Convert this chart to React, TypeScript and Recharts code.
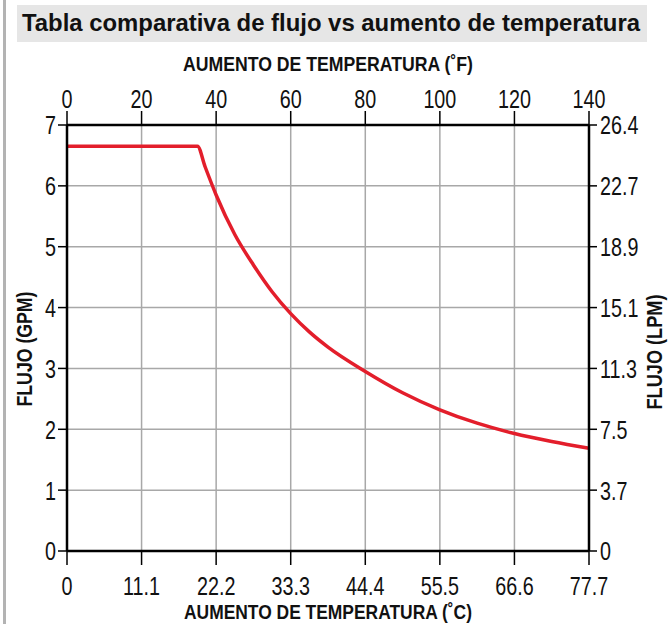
import React from 'react';
import { LineChart, Line, XAxis, YAxis, CartesianGrid } from 'recharts';

// flow curve (°F rise -> GPM)
const tempRiseF = [0, 35, 37, 40, 45, 50, 55, 60, 65, 70, 80, 90, 100, 110, 120, 130, 140];
const flowGpm = [6.65, 6.65, 6.32, 5.85, 5.2, 4.7, 4.26, 3.9, 3.6, 3.35, 2.95, 2.6, 2.32, 2.1, 1.93, 1.8, 1.69];

const fahrenheitTicks = [0, 20, 40, 60, 80, 100, 120, 140];
const celsiusLabels = ['0', '11.1', '22.2', '33.3', '44.4', '55.5', '66.6', '77.7'];
const gpmTicks = [0, 1, 2, 3, 4, 5, 6, 7];
const lpmLabels = ['0', '3.7', '7.5', '11.3', '15.1', '18.9', '22.7', '26.4'];

const data = tempRiseF.map((t, i) => ({ temp: t, flow: flowGpm[i] }));

const FONT = '"Liberation Sans", Arial, sans-serif';
const FS = 26; // tick font size
const SX = 0.76; // horizontal squeeze, the original uses a condensed face
const axisStroke = { stroke: '#000', strokeWidth: 2.5 };
const tickStroke = { stroke: '#000', strokeWidth: 1.5 };

// tick labels drawn narrow
const makeTick = (side: 'top' | 'bottom' | 'left' | 'right', labels?: string[]) => (props: any) => {
  const { x, y, payload, index } = props;
  const value = labels ? labels[index] : String(payload.value);
  let anchor = 'middle';
  let dy = 0;
  if (side === 'bottom') dy = 0.72 * FS;
  if (side === 'left') { anchor = 'end'; dy = 0.36 * FS; }
  if (side === 'right') { anchor = 'start'; dy = 0.36 * FS; }
  return (
    <text transform={`translate(${x},${y + dy}) scale(${SX},1)`} textAnchor={anchor} fontFamily={FONT} fontSize={FS} fill="#111">
      {value}
    </text>
  );
};

const TopTitle = ({ viewBox }: any) => (
  <text x={viewBox.x + viewBox.width / 2 - 290 / 2} y={71} textLength={290} lengthAdjust="spacingAndGlyphs" fontFamily={FONT} fontWeight="bold" fontSize={21} fill="#111">
    AUMENTO DE TEMPERATURA (˚F)
  </text>
);

const BottomTitle = ({ viewBox }: any) => (
  <text x={viewBox.x + viewBox.width / 2 - 288 / 2} y={619} textLength={288} lengthAdjust="spacingAndGlyphs" fontFamily={FONT} fontWeight="bold" fontSize={20} fill="#111">
    AUMENTO DE TEMPERATURA (˚C)
  </text>
);

const SideTitle = (text: string, cx: number, shift: number) => ({ viewBox }: any) => {
  const cy = viewBox.y + viewBox.height / 2 + shift;
  return (
    <text
      x={cx - 115 / 2}
      y={cy}
      transform={`rotate(-90 ${cx} ${cy})`}
      textLength={115}
      lengthAdjust="spacingAndGlyphs"
      dominantBaseline="central"
      fontFamily={FONT}
      fontWeight="bold"
      fontSize={22}
      fill="#111"
    >
      {text}
    </text>
  );
};

export default function App() {
  return (
    <div style={{ position: 'absolute', left: 0, top: 0, width: 672, height: 624, background: '#fff', overflow: 'hidden' }}>
      {/* gray rule on the left edge */}
      <div style={{ position: 'absolute', left: 3, top: 0, width: 3, height: 624, background: '#b3b3b3' }} />
      {/* title bar */}
      <svg style={{ position: 'absolute', left: 17, top: 5 }} width={630} height={37}>
        <rect x={0} y={0} width={630} height={37} fill="#e6e6e6" />
        <text x={5} y={26} textLength={618} lengthAdjust="spacingAndGlyphs" fontFamily={FONT} fontWeight="bold" fontSize={23.5} fill="#111">
          Tabla comparativa de flujo vs aumento de temperatura
        </text>
      </svg>

      <LineChart width={672} height={624} data={data} margin={{ top: 0, right: 0, bottom: 0, left: 0 }}>
        <CartesianGrid xAxisId="f" yAxisId="gpm" stroke="#a8a8a8" strokeWidth={1.5} />
        <XAxis
          xAxisId="f"
          dataKey="temp"
          type="number"
          orientation="top"
          domain={[0, 140]}
          ticks={fahrenheitTicks}
          height={125}
          tick={makeTick('top')}
          tickSize={14}
          tickMargin={3}
          axisLine={axisStroke}
          tickLine={tickStroke}
          interval={0}
          label={{ content: TopTitle }}
        />
        <XAxis
          xAxisId="c"
          dataKey="temp"
          type="number"
          orientation="bottom"
          domain={[0, 140]}
          ticks={fahrenheitTicks}
          height={73}
          tick={makeTick('bottom', celsiusLabels)}
          tickSize={14}
          tickMargin={11}
          axisLine={axisStroke}
          tickLine={tickStroke}
          interval={0}
          label={{ content: BottomTitle }}
        />
        <YAxis
          yAxisId="gpm"
          type="number"
          domain={[0, 7]}
          ticks={gpmTicks}
          width={67}
          tick={makeTick('left')}
          tickSize={9}
          tickMargin={2}
          axisLine={axisStroke}
          tickLine={tickStroke}
          interval={0}
          label={{ content: SideTitle('FLUJO (GPM)', 24, 11) }}
        />
        <YAxis
          yAxisId="lpm"
          orientation="right"
          type="number"
          domain={[0, 7]}
          allowDataOverflow
          ticks={gpmTicks}
          width={83}
          tick={makeTick('right', lpmLabels)}
          tickSize={8}
          tickMargin={3}
          axisLine={axisStroke}
          tickLine={tickStroke}
          interval={0}
          label={{ content: SideTitle('FLUJO (LPM)', 654, 14) }}
        />
        <Line
          xAxisId="f"
          yAxisId="gpm"
          type="monotone"
          dataKey="flow"
          stroke="#e31e2b"
          strokeWidth={3.5}
          dot={false}
          isAnimationActive={false}
        />
      </LineChart>
    </div>
  );
}
